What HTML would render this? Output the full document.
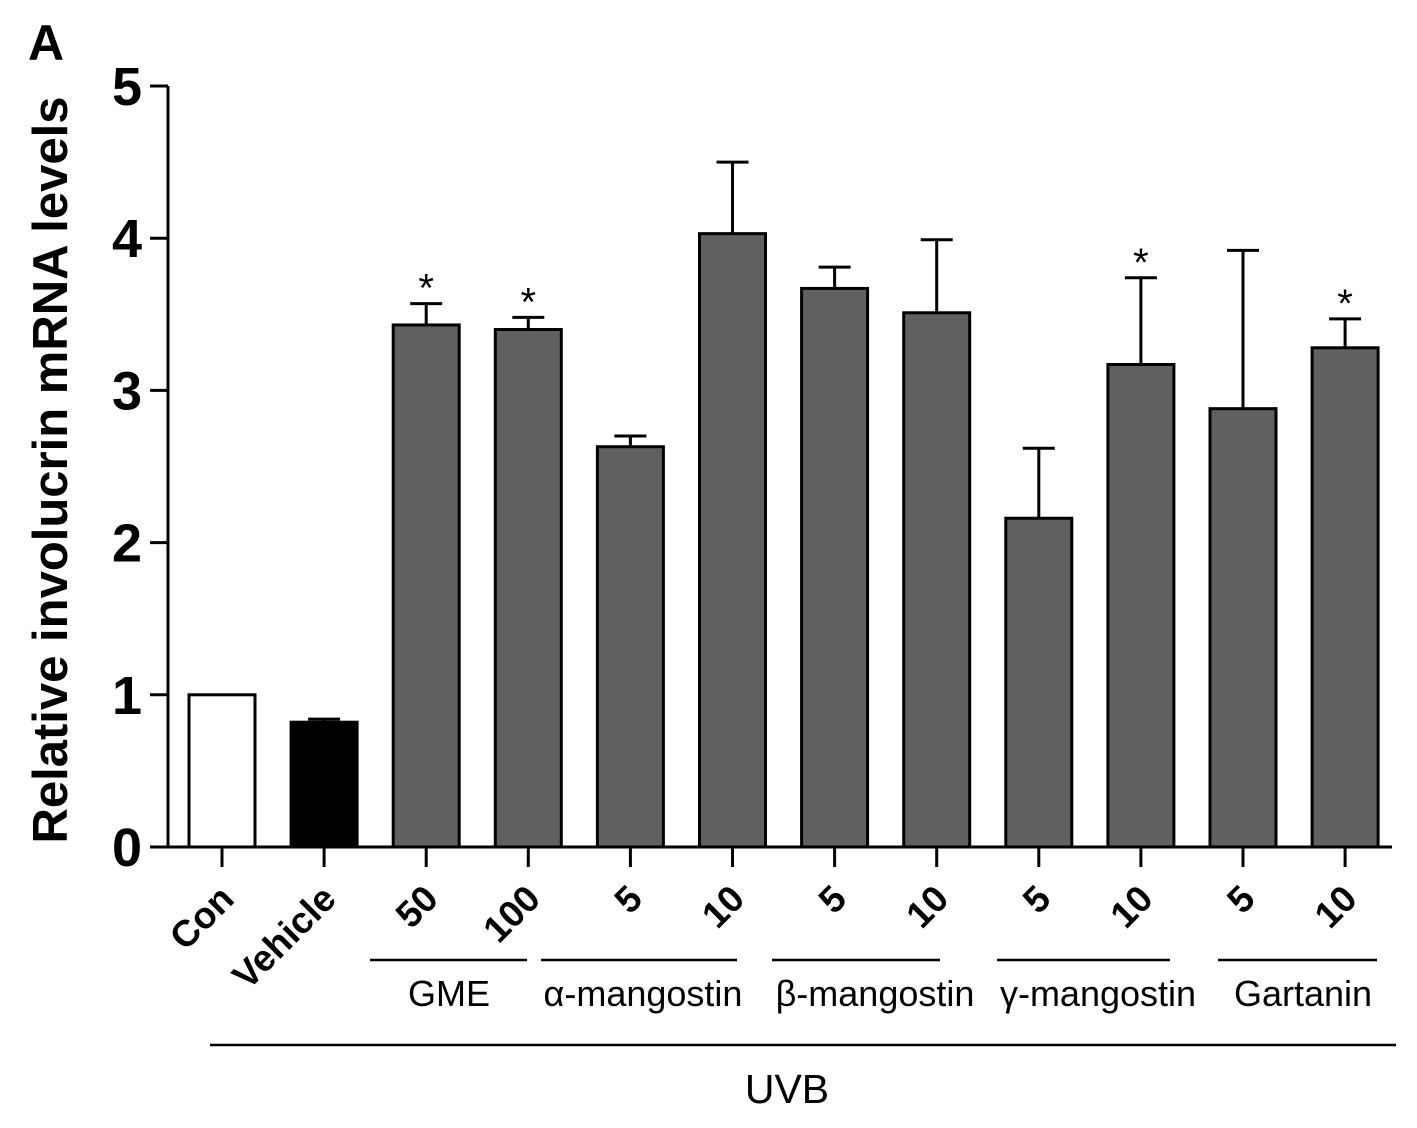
<!DOCTYPE html>
<html><head><meta charset="utf-8"><style>
body{margin:0;background:#fff;}
svg text{font-family:"Liberation Sans",Arial,sans-serif;}
</style></head><body>
<svg id="c" width="1417" height="1123" viewBox="0 0 1417 1123" xmlns="http://www.w3.org/2000/svg">
<text x="28" y="60" font-size="50" font-weight="bold">A</text>
<text transform="translate(67,470) rotate(-90)" text-anchor="middle" font-size="49" font-weight="bold">Relative involucrin mRNA levels</text>
<g id="g"></g>
</svg>
<script>
const categories=["Con","Vehicle","50","100","5","10","5","10","5","10","5","10"];
const values=[1.0,0.82,3.43,3.40,2.63,4.03,3.67,3.51,2.16,3.17,2.88,3.28];
const errors=[0,0.02,0.14,0.08,0.07,0.47,0.14,0.48,0.46,0.57,1.04,0.19];
const significant=[false,false,true,true,false,false,false,false,false,true,false,true];
const yTicks=[0,1,2,3,4,5];
const groups=[{label:"GME",from:2,to:3},{label:"α-mangostin",from:4,to:5},{label:"β-mangostin",from:6,to:7},{label:"γ-mangostin",from:8,to:9},{label:"Gartanin",from:10,to:11}];
const groupLineLayout=[[370,527,449],[541,737,643],[772,940,875],[997,1170,1098],[1218,1377,1303]];

const NS="http://www.w3.org/2000/svg";
const g=document.getElementById('g');
const y0=847,y5=86;
const y=v=>y0-(y0-y5)*v/5;
const x=i=>222+i*102.1;
const bw=66;
function mk(t,a,txt){const e=document.createElementNS(NS,t);for(const k in a)e.setAttribute(k,a[k]);if(txt!==undefined)e.textContent=txt;g.appendChild(e);return e;}

let ax=mk('line',{x1:168,y1:y(5),x2:168,y2:y0+1,stroke:'#000','stroke-width':3});


yTicks.forEach(t=>{
  let l=mk('line',{x1:150,y1:y(t),x2:168,y2:y(t),stroke:'#000','stroke-width':3});
  
  
  let tx=mk('text',{x:142,y:y(t)+19,'text-anchor':'end','font-size':54,'font-weight':'bold'},String(t));
  
  
});
let xa=mk('line',{x1:166,y1:y0,x2:1392,y2:y0,stroke:'#000','stroke-width':3});



categories.forEach((c,i)=>{
  const cx=x(i);
  const fill=i==0?'#fff':(i==1?'#000':'#606060');
  if(errors[i]>0){
    let e=mk('line',{x1:cx,y1:y(values[i]),x2:cx,y2:y(values[i]+errors[i]),stroke:'#000','stroke-width':3});
    
    
    let c2=mk('line',{x1:cx-16,y1:y(values[i]+errors[i]),x2:cx+16,y2:y(values[i]+errors[i]),stroke:'#000','stroke-width':3});
    
    
  }
  let r=mk('rect',{x:cx-bw/2,y:y(values[i]),width:bw,height:y0-y(values[i]),fill:fill,stroke:'#000','stroke-width':3});
  
  
  if(significant[i]){
    let s=mk('text',{x:cx,y:y(values[i]+errors[i])-2,'text-anchor':'middle','font-size':40},'*');
    
    
  }
  let t=mk('line',{x1:cx,y1:y0,x2:cx,y2:y0+20,stroke:'#000','stroke-width':3});
  
  
  let lb=mk('text',{transform:`translate(${cx+14},${y0+54}) rotate(-45)`,'text-anchor':'end','font-size':37,'font-weight':'bold'},c);
  
  
});

groups.forEach((gr,k)=>{
  const L=groupLineLayout[k];
  let l=mk('line',{x1:L[0],y1:960,x2:L[1],y2:960,stroke:'#000','stroke-width':2.5});
  
  
  let t=mk('text',{x:L[2],y:1006,'text-anchor':'middle','font-size':36},gr.label);
  
  
});
let u=mk('line',{x1:210,y1:1045,x2:1396,y2:1045,stroke:'#000','stroke-width':2.5});


let ut=mk('text',{x:787,y:1103,'text-anchor':'middle','font-size':41},'UVB');


</script>
</body></html>
